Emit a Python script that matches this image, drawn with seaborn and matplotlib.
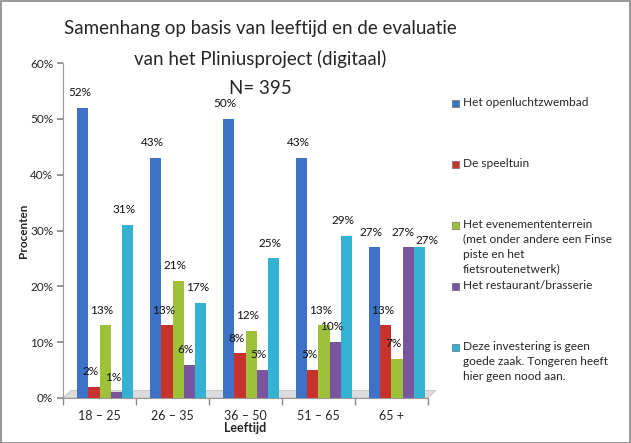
import matplotlib
matplotlib.use("Agg")
import matplotlib.pyplot as plt
import seaborn as sns
import pandas as pd
from matplotlib.patches import Rectangle, Polygon

categories = ["18 – 25", "26 – 35", "36 – 50", "51 – 65", "65 +"]
series_names = [
    "Het openluchtzwembad",
    "De speeltuin",
    "Het evenemententerrein\n(met onder andere een Finse\npiste en het\nfietsroutenetwerk)",
    "Het restaurant/brasserie",
    "Deze investering is geen\ngoede zaak. Tongeren heeft\nhier geen nood aan.",
]
zwembad = [52, 43, 50, 43, 27]
speeltuin = [2, 13, 8, 5, 13]
evenement = [13, 21, 12, 13, 7]
restaurant = [1, 6, 5, 10, 27]
geen = [31, 17, 25, 29, 27]
yticks = [0, 10, 20, 30, 40, 50, 60]

colors = ["#3D72C6", "#C8322C", "#9DC23A", "#7A559F", "#33B2D4"]

rows = []
for name, vals in zip(series_names, [zwembad, speeltuin, evenement, restaurant, geen]):
    for c, v in zip(categories, vals):
        rows.append({"Leeftijd": c, "Serie": name, "Waarde": v})
df = pd.DataFrame(rows)

sns.set_theme(style="white")
plt.rcParams["font.family"] = ["Lato", "DejaVu Sans"]

fig = plt.figure(figsize=(6.31, 4.43), dpi=100)
ax = fig.add_axes([0.0998, 0.1016, 0.578, 0.756])

sns.barplot(data=df, x="Leeftijd", y="Waarde", hue="Serie", order=categories,
            hue_order=series_names, palette=colors, width=0.77, ax=ax,
            legend=False, saturation=1, edgecolor="none", linewidth=0)

ax.set_ylim(0, 60)
ax.set_xlim(-0.5, 4.5)

# 3D depth: bars sit slightly to the right of the category ticks
depth = 0.08
for p in ax.patches:
    p.set_x(p.get_x() + depth)

all_texts = []
for cont in ax.containers:
    texts = ax.bar_label(cont, labels=[f"{int(round(b.get_height()))}%" for b in cont],
                         padding=7, fontsize=8.5, color="#111111")
    for t in texts:
        t.xyann = (-2.5, t.xyann[1])
    all_texts.append(texts)

# the two equal labels in the last group: push the second one right/down as in the reference
last = all_texts[-1][-1]
last.xyann = (5.5, last.xyann[1] - 6)
prev = all_texts[-2][-1]
prev.xyann = (-4.0, prev.xyann[1])

ax.set_yticks(yticks)
ax.set_yticklabels([f"{t}%" for t in yticks], fontsize=8.5)
ax.set_xticks(range(len(categories)))
ax.set_xticklabels(categories, fontsize=9)
ax.set_xticks([i - 0.5 for i in range(len(categories) + 1)], minor=True)
ax.tick_params(axis="x", which="major", length=0, pad=9)
ax.tick_params(axis="x", which="minor", length=5, color="#888888", direction="out", bottom=True)
ax.tick_params(axis="y", which="major", length=4, color="#888888", direction="out", left=True, pad=3)
for s in ["top", "right"]:
    ax.spines[s].set_visible(False)
for s in ["left", "bottom"]:
    ax.spines[s].set_color("#999999")
    ax.spines[s].set_linewidth(0.8)

# 3D floor
floor = Polygon([(0, 0), (1.0, 0), (1.022, 0.022), (0.022, 0.022)], closed=True,
                transform=ax.transAxes, facecolor="#dcdcdc", edgecolor="#b5b5b5",
                linewidth=0.5, clip_on=False, zorder=0.5)
ax.add_patch(floor)

ax.set_xlabel("Leeftijd", fontsize=9, fontweight="bold", labelpad=0)
ax.set_ylabel("Procenten", fontsize=8.5, fontweight="bold", labelpad=1)

fig.text(0.413, 0.935, "Samenhang op basis van leeftijd en de evaluatie", ha="center",
         va="center", fontsize=13.5)
fig.text(0.413, 0.866, "van het Pliniusproject (digitaal)", ha="center", va="center", fontsize=13.5)
fig.text(0.413, 0.80, "N= 395", ha="center", va="center", fontsize=13.5)

# legend
W, H = 631, 443
for i, (name, col) in enumerate(zip(series_names, colors)):
    ytop = 98 + 61 * i
    fig.patches.append(Rectangle((452 / W, 1 - (ytop + 8.5) / H), 7 / W, 7 / H,
                                 transform=fig.transFigure, facecolor=col,
                                 edgecolor="#555555", linewidth=0.4))
    fig.text(463 / W, 1 - (ytop - 1) / H, name, ha="left", va="top", fontsize=8.6,
             linespacing=1.42)

fig.patches.append(Rectangle((0.001, 0.001), 0.997, 0.997, transform=fig.transFigure,
                             facecolor="none", edgecolor="#888888", linewidth=1.2))

fig.savefig("out.png", dpi=100)
